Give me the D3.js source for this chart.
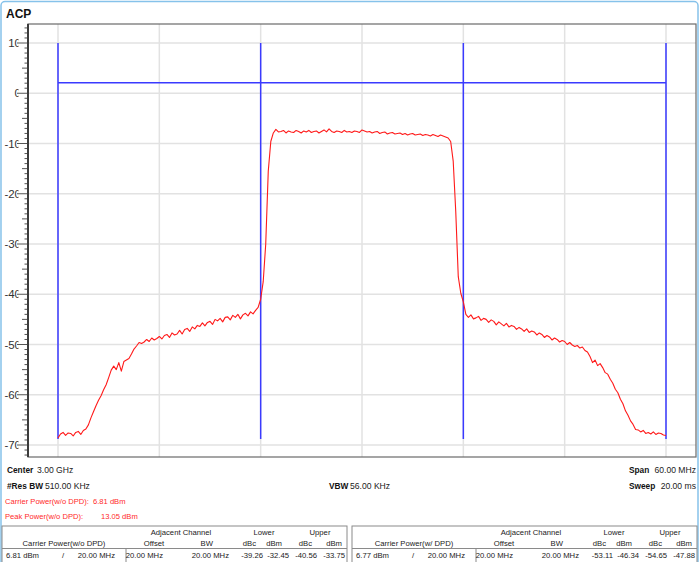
<!DOCTYPE html>
<html><head><meta charset="utf-8">
<script src="https://cdn.jsdelivr.net/npm/d3@7"></script>
<style>
html,body{margin:0;padding:0;background:#fff;}
svg{display:block;font-family:"Liberation Sans",Arial,sans-serif;}
</style></head><body>
<svg id="c" width="700" height="562"></svg>
<script>
// ---------------- data ----------------
const chartTitle = "ACP";
const yTickValues = [10, 0, -10, -20, -30, -40, -50, -60, -70];
const xGridMHz = [-30, -20, -10, 0, 10, 20, 30];
const channelEdgesMHz = [-30, -10, 10, 30];
const limitLevelDb = 2.1;
const channelLineBottomDb = -68.8;
const sweepStartMHz = -30;
const sweepStepMHz = 0.25;
const traceDb = [
 -68.6,-67.8,-67.5,-68.1,-67.6,-67.7,-68.2,-67.5,-67.3,-67.9,
 -67.1,-66.8,-66.0,-64.6,-63.4,-62.2,-61.1,-60.2,-59.0,-58.0,
 -56.6,-55.1,-54.3,-55.0,-53.6,-55.3,-53.4,-53.1,-52.8,-51.9,
 -50.9,-50.3,-49.6,-49.8,-49.5,-49.0,-49.4,-48.7,-49.1,-48.8,
 -48.4,-48.9,-48.2,-48.0,-48.6,-47.7,-48.1,-47.9,-47.2,-47.9,
 -47.0,-46.8,-47.4,-46.5,-46.9,-46.2,-46.4,-45.7,-46.3,-45.6,
 -45.4,-46.0,-45.0,-45.3,-44.8,-45.5,-44.6,-44.5,-45.1,-44.2,
 -44.6,-44.0,-44.9,-44.1,-43.8,-44.3,-43.5,-43.9,-43.2,-42.6,
 -41.0,-37.5,-30.0,-15.5,-9.6,-7.9,-7.2,-7.7,-7.6,-7.4,
 -7.9,-7.5,-7.7,-7.8,-7.4,-7.6,-7.9,-7.5,-7.7,-7.4,
 -7.8,-7.6,-7.5,-7.9,-7.6,-7.3,-7.7,-7.1,-7.6,-7.8,
 -7.5,-7.6,-7.8,-7.4,-7.7,-7.6,-7.8,-7.5,-7.6,-7.8,
 -7.3,-7.5,-7.7,-7.6,-7.9,-7.7,-7.6,-8.0,-7.8,-7.7,
 -8.1,-7.9,-7.8,-8.1,-8.0,-7.9,-8.2,-8.0,-8.3,-8.1,
 -8.0,-8.3,-8.2,-8.1,-8.4,-8.2,-8.3,-8.5,-8.2,-8.4,
 -8.6,-8.3,-8.5,-8.7,-8.9,-9.6,-13.5,-23.5,-36.5,-39.8,
 -41.5,-44.0,-44.6,-44.1,-44.9,-44.7,-44.4,-45.2,-44.8,-45.0,
 -45.6,-45.1,-45.4,-46.1,-45.5,-45.9,-46.3,-45.8,-46.5,-46.2,
 -46.4,-47.0,-46.6,-46.9,-47.4,-46.9,-47.6,-47.3,-47.5,-48.1,
 -47.7,-48.0,-48.6,-48.2,-48.5,-49.1,-48.7,-49.0,-49.5,-49.2,
 -49.4,-50.0,-49.6,-50.1,-50.4,-50.2,-50.7,-50.5,-51.2,-51.5,
 -52.4,-53.6,-53.1,-54.2,-53.8,-54.6,-55.6,-55.9,-56.9,-57.7,
 -58.9,-59.6,-60.9,-61.8,-63.2,-64.1,-65.2,-65.9,-66.9,-67.0,
 -67.4,-67.1,-67.7,-67.5,-67.8,-67.4,-67.9,-67.6,-67.7,-68.0,
 -68.1
];
const infoRow1 = [["Center", "3.00 GHz"], ["Span", "60.00 MHz"]];
const infoRow2 = [["#Res BW", "510.00 KHz"], ["VBW", "56.00 KHz"], ["Sweep", "20.00 ms"]];
const redLines = [["Carrier Power(w/o DPD):", "6.81 dBm"], ["Peak Power(w/o DPD):", "13.05 dBm"]];
const tableCarrierLabels = ["Carrier Power(w/o DPD)", "Carrier Power(w/ DPD)"];
const tableCarrierPower = ["6.81 dBm", "6.77 dBm"];
const tableCarrierBw = ["20.00 MHz", "20.00 MHz"];
const tableOffset = ["20.00 MHz", "20.00 MHz"];
const tableAdjBw = ["20.00 MHz", "20.00 MHz"];
const tableLowerDbc = ["-39.26", "-53.11"];
const tableLowerDbm = ["-32.45", "-46.34"];
const tableUpperDbc = ["-40.56", "-54.65"];
const tableUpperDbm = ["-33.75", "-47.88"];

// ---------------- layout ----------------
const svg = d3.select("#c");
const plot = {left: 28, right: 696, top: 24, bottom: 457};
const x = d3.scaleLinear().domain([-30, 30]).range([58, 666]);
const y = d3.scaleLinear().domain([10, -70]).range([43, 445]);
const yMin = y.invert(plot.bottom), yMax = y.invert(plot.top);

// outer panel border
svg.append("rect").attr("x", 1).attr("y", 1.5).attr("width", 697).attr("height", 580)
  .attr("rx", 4).attr("fill", "#fff").attr("stroke", "#86c2ea").attr("stroke-width", 1.5);

// title
svg.append("text").attr("x", 6).attr("y", 18).attr("font-size", 12).attr("font-weight", "bold")
  .attr("fill", "#111").text(chartTitle);

// gridlines
const g = svg.append("g");
g.selectAll(".hg").data(yTickValues).join("line")
  .attr("x1", plot.left).attr("x2", plot.right)
  .attr("y1", d => y(d)).attr("y2", d => y(d))
  .attr("stroke", "#e2e2e2").attr("stroke-width", 1.5);
g.selectAll(".vg").data(xGridMHz).join("line")
  .attr("x1", d => x(d)).attr("x2", d => x(d))
  .attr("y1", plot.top).attr("y2", plot.bottom)
  .attr("stroke", "#e2e2e2").attr("stroke-width", 1.5);

// frame
svg.append("rect").attr("x", plot.left).attr("y", plot.top)
  .attr("width", plot.right - plot.left).attr("height", plot.bottom - plot.top)
  .attr("fill", "none").attr("stroke", "#6a6a6a").attr("stroke-width", 1.2);

// channel lines
svg.selectAll(".ch").data(channelEdgesMHz).join("line")
  .attr("x1", d => x(d)).attr("x2", d => x(d))
  .attr("y1", y(10)).attr("y2", y(channelLineBottomDb))
  .attr("stroke", "#3a3aff").attr("stroke-width", 1.5);
svg.append("line")
  .attr("x1", x(channelEdgesMHz[0])).attr("x2", x(channelEdgesMHz[channelEdgesMHz.length - 1]))
  .attr("y1", y(limitLevelDb)).attr("y2", y(limitLevelDb))
  .attr("stroke", "#3a3aff").attr("stroke-width", 1.5);

// trace
const defs = svg.append("defs");
defs.append("clipPath").attr("id", "clip").append("rect")
  .attr("x", plot.left).attr("y", plot.top).attr("width", plot.right - plot.left).attr("height", plot.bottom - plot.top);
defs.append("clipPath").attr("id", "lblclip").append("rect")
  .attr("x", 0).attr("y", 0).attr("width", 18.5).attr("height", 562);
const line = d3.line().x((d, i) => x(sweepStartMHz + i * sweepStepMHz)).y(d => y(d));
svg.append("path").datum(traceDb).attr("d", line).attr("clip-path", "url(#clip)")
  .attr("fill", "none").attr("stroke", "#ff1a1a").attr("stroke-width", 1.1).attr("stroke-linejoin", "round");

// y axis
const minor = d3.range(Math.ceil(yMin), Math.floor(yMax) + 1);
svg.selectAll(".mt").data(minor).join("line")
  .attr("x1", d => d % 10 === 0 ? 17 : (d % 5 === 0 ? 22 : 24.5)).attr("x2", plot.left)
  .attr("y1", d => y(d)).attr("y2", d => y(d))
  .attr("stroke", "#555").attr("stroke-width", 1);
svg.append("line").attr("x1", plot.left).attr("x2", plot.left).attr("y1", plot.top).attr("y2", plot.bottom)
  .attr("stroke", "#3c3c3c").attr("stroke-width", 2);
svg.append("g").attr("clip-path", "url(#lblclip)")
  .selectAll("text").data(yTickValues).join("text")
  .attr("x", 21).attr("y", d => y(d)).attr("dy", "0.36em").attr("text-anchor", "end")
  .attr("font-size", 11.5).attr("fill", "#333").text(d => d);

// info text
const fsLabel = 8.3, fsValue = 8.6, fsRed = 7.6, fsTable = 7.7;
function kv(xp, yp, k, v, vx, anchorEnd) {
  svg.append("text").attr("x", xp).attr("y", yp).attr("font-size", fsLabel).attr("font-weight", "bold").attr("fill", "#111").text(k);
  svg.append("text").attr("x", vx).attr("y", yp).attr("font-size", fsValue).attr("fill", "#222")
    .attr("text-anchor", anchorEnd ? "end" : "start").text(v);
}
kv(7, 473, infoRow1[0][0], infoRow1[0][1], 37, false);
kv(629, 473, infoRow1[1][0], infoRow1[1][1], 696, true);
kv(7, 489, infoRow2[0][0], infoRow2[0][1], 45, false);
kv(329, 489, infoRow2[1][0], infoRow2[1][1], 350, false);
kv(629, 489, infoRow2[2][0], infoRow2[2][1], 696, true);
[[504, 93], [519, 101]].forEach((p, i) => {
  svg.append("text").attr("x", 5).attr("y", p[0]).attr("font-size", fsRed).attr("fill", "#ff2a2a").text(redLines[i][0]);
  svg.append("text").attr("x", p[1]).attr("y", p[0]).attr("font-size", fsRed).attr("fill", "#ff2a2a").text(redLines[i][1]);
});

// tables
[0, 1].forEach(t => {
  const ox = t * 350;
  const tg = svg.append("g").attr("transform", `translate(${ox},0)`);
  tg.append("rect").attr("x", 2).attr("y", 526).attr("width", 345).attr("height", 40)
    .attr("fill", "none").attr("stroke", "#8a8a8a").attr("stroke-width", 1);
  tg.append("line").attr("x1", 2).attr("x2", 347).attr("y1", 548.5).attr("y2", 548.5).attr("stroke", "#8a8a8a");
  tg.append("line").attr("x1", 126).attr("x2", 126).attr("y1", 548.5).attr("y2", 566).attr("stroke", "#8a8a8a");
  const txt = (xp, yp, s, anchor) => tg.append("text").attr("x", xp).attr("y", yp).attr("font-size", fsTable)
    .attr("fill", "#222").attr("text-anchor", anchor).text(s);
  txt(181, 535, "Adjacent Channel", "middle");
  txt(264, 535, "Lower", "middle");
  txt(320, 535, "Upper", "middle");
  txt(64, 546, tableCarrierLabels[t], "middle");
  txt(154, 546, "Offset", "middle");
  txt(213, 546, "BW", "end");
  txt(256, 546, "dBc", "end");
  txt(282, 546, "dBm", "end");
  txt(312, 546, "dBc", "end");
  txt(342, 546, "dBm", "end");
  txt(39, 558, tableCarrierPower[t], "end");
  txt(63, 558, "/", "middle");
  txt(115, 558, tableCarrierBw[t], "end");
  txt(163, 558, tableOffset[t], "end");
  txt(229, 558, tableAdjBw[t], "end");
  txt(263, 558, tableLowerDbc[t], "end");
  txt(289, 558, tableLowerDbm[t], "end");
  txt(317, 558, tableUpperDbc[t], "end");
  txt(345, 558, tableUpperDbm[t], "end");
});
</script>
</body></html>
